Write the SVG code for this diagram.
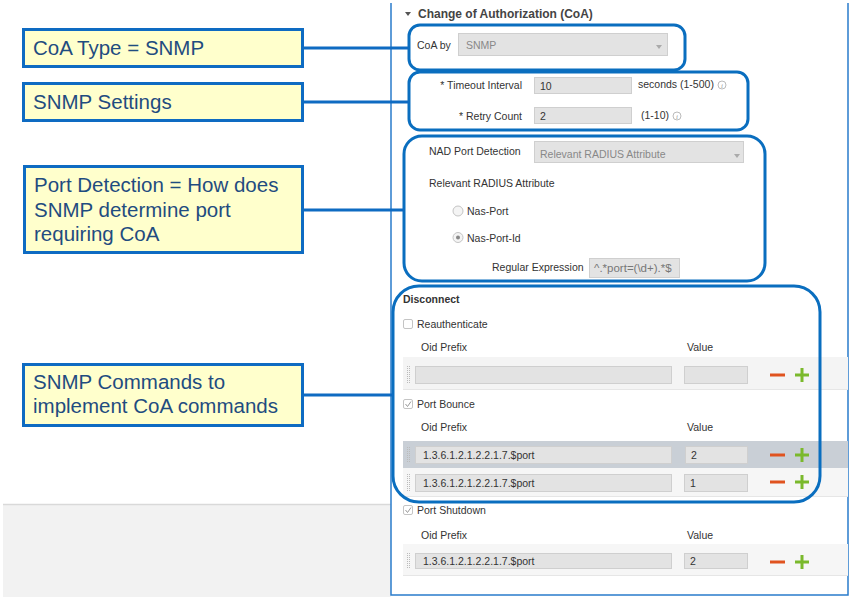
<svg xmlns="http://www.w3.org/2000/svg" width="860" height="606" viewBox="0 0 860 606">
<style>
.callout rect{fill:#ffffcc;stroke:#0e6bc2;stroke-width:3}
.callout text{font-family:"Liberation Sans",Arial,sans-serif;font-size:20.5px;fill:#1f4c80}
.hl{fill:none;stroke:#0a6ebf;stroke-width:3}
.conn line{stroke:#0e6bc2;stroke-width:3}
.f{font-family:"Liberation Sans",Arial,sans-serif;font-size:10.5px;fill:#333}
.g{font-family:"Liberation Sans",Arial,sans-serif;font-size:10.5px;fill:#888}
.inp{fill:#e3e3e3;stroke:#cfcfcf;stroke-width:1}
.cb{fill:#fff;stroke:#c4c4c4;stroke-width:1}
.ck{fill:none;stroke:#999;stroke-width:1}
.minus{stroke:#e0531f;stroke-width:3}
.plus{stroke:#7ab92c;stroke-width:3}
.drag{stroke:#bbb;stroke-width:1;stroke-dasharray:1 1}
.sep{stroke:#e6e6e6;stroke-width:1}
</style>
<defs>
<clipPath id="reClip"><rect x="589" y="258" width="90" height="19"/></clipPath>
</defs>
<rect width="860" height="606" fill="#fff"/>
<!-- bottom-left gray area -->
<rect x="3" y="504" width="388" height="93" fill="#f2f2f2"/>
<line x1="3" y1="504.5" x2="391" y2="504.5" stroke="#d9d9d9" stroke-width="1.5"/>
<!-- panel border -->
<path d="M391 3 V595 H848 V3" fill="none" stroke="#2a7ccc" stroke-width="1.5"/>

<!-- header -->
<g id="header">
<path d="M405 12 L411 12 L408 16 Z" fill="#555"/>
<text x="418" y="18" font-family="Liberation Sans,Arial,sans-serif" font-size="12" font-weight="bold" fill="#444">Change of Authorization (CoA)</text>
</g>

<!-- CoA by -->
<g id="form-coa">
<text class="f" x="417" y="49">CoA by</text>
<rect class="inp" x="458.5" y="33.5" width="209" height="22" fill="#e6e6e6"/>
<text class="g" x="466" y="49">SNMP</text>
<path d="M656 45 L662 45 L659 49 Z" fill="#aaa"/>
</g>

<!-- SNMP settings -->
<g id="form-snmp">
<text class="f" x="522" y="89" text-anchor="end">* Timeout Interval</text>
<rect class="inp" x="534.5" y="77.5" width="97" height="16"/>
<text class="f" x="540" y="90" fill="#555">10</text>
<text class="f" x="638" y="88">seconds (1-500)</text>
<circle cx="722" cy="85" r="4" fill="none" stroke="#bbb"/>
<text x="722" y="87.5" font-family="Liberation Serif,serif" font-style="italic" font-size="7" fill="#999" text-anchor="middle">i</text>
<text class="f" x="522" y="120" text-anchor="end">* Retry Count</text>
<rect class="inp" x="534.5" y="107.5" width="97" height="16"/>
<text class="f" x="540" y="120" fill="#555">2</text>
<text class="f" x="641" y="119">(1-10)</text>
<circle cx="677" cy="116" r="4" fill="none" stroke="#bbb"/>
<text x="677" y="118.5" font-family="Liberation Serif,serif" font-style="italic" font-size="7" fill="#999" text-anchor="middle">i</text>
</g>

<!-- Port detection -->
<g id="form-port">
<text class="f" x="429" y="155">NAD Port Detection</text>
<rect class="inp" x="534.5" y="141.5" width="209" height="21" fill="#e6e6e6"/>
<text class="g" x="540" y="158">Relevant RADIUS Attribute</text>
<path d="M734 154 L740 154 L737 158 Z" fill="#aaa"/>
<text class="f" x="429" y="187">Relevant RADIUS Attribute</text>
<circle cx="458" cy="211" r="5" fill="#f4f4f4" stroke="#c4c4c4"/>
<text class="f" x="467" y="215">Nas-Port</text>
<circle cx="458" cy="237.5" r="5" fill="#f4f4f4" stroke="#c4c4c4"/>
<circle cx="458" cy="237.5" r="2" fill="#888"/>
<text class="f" x="467" y="242">Nas-Port-Id</text>
<text class="f" x="492" y="271">Regular Expression</text>
<rect class="inp" x="589.5" y="258.5" width="90" height="19"/>
<text x="594" y="272" clip-path="url(#reClip)" font-family="Liberation Sans,Arial,sans-serif" font-size="11.5" fill="#777">^.*port=(\d+).*$</text>
</g>

<!-- Disconnect -->
<g id="form-disconnect">
<text x="403" y="303" font-family="Liberation Sans,Arial,sans-serif" font-size="10.5" font-weight="bold" fill="#333">Disconnect</text>
<rect class="cb" x="403.5" y="319.5" width="9" height="9" rx="1.5"/>
<text class="f" x="417" y="328">Reauthenticate</text>
<text class="f" x="421" y="351">Oid Prefix</text>
<text class="f" x="687" y="351">Value</text>
<rect x="403" y="357" width="445" height="32" fill="#f4f4f4"/>
<line class="sep" x1="403" y1="389.5" x2="848" y2="389.5"/>
<line class="drag" x1="407.5" y1="366" x2="407.5" y2="383"/>
<line class="drag" x1="409.5" y1="366" x2="409.5" y2="383"/>
<rect class="inp" x="415.5" y="366.5" width="256" height="17"/>
<rect class="inp" x="684.5" y="366.5" width="63" height="17"/>
<line class="minus" x1="770" y1="375" x2="785" y2="375"/>
<line class="plus" x1="795" y1="375" x2="809" y2="375"/>
<line class="plus" x1="802" y1="368" x2="802" y2="382"/>

<rect class="cb" x="403.5" y="399.5" width="9" height="9" rx="1.5"/>
<path class="ck" d="M405.5 404 L407.5 406.5 L411 401.5"/>
<text class="f" x="417" y="408">Port Bounce</text>
<text class="f" x="421" y="431">Oid Prefix</text>
<text class="f" x="687" y="431">Value</text>

<rect x="403" y="441" width="445" height="27" fill="#c9cfd6"/>
<line class="drag" x1="407.5" y1="447" x2="407.5" y2="463"/>
<line class="drag" x1="409.5" y1="447" x2="409.5" y2="463"/>
<rect class="inp" x="415.5" y="446.5" width="256" height="17"/>
<text class="f" x="423" y="459" fill="#555">1.3.6.1.2.1.2.2.1.7.$port</text>
<rect class="inp" x="685.5" y="446.5" width="62" height="17"/>
<text class="f" x="691" y="459" fill="#555">2</text>
<line class="minus" x1="770" y1="455" x2="785" y2="455"/>
<line class="plus" x1="795" y1="455" x2="809" y2="455"/>
<line class="plus" x1="802" y1="448" x2="802" y2="462"/>

<rect x="403" y="468" width="445" height="28" fill="#f6f6f6"/>
<line class="sep" x1="403" y1="496.5" x2="848" y2="496.5"/>
<line class="drag" x1="407.5" y1="474" x2="407.5" y2="491"/>
<line class="drag" x1="409.5" y1="474" x2="409.5" y2="491"/>
<rect class="inp" x="415.5" y="474.5" width="256" height="17"/>
<text class="f" x="423" y="487" fill="#555">1.3.6.1.2.1.2.2.1.7.$port</text>
<rect class="inp" x="684.5" y="474.5" width="63" height="17"/>
<text class="f" x="690" y="487" fill="#555">1</text>
<line class="minus" x1="770" y1="482" x2="785" y2="482"/>
<line class="plus" x1="795" y1="482" x2="809" y2="482"/>
<line class="plus" x1="802" y1="475" x2="802" y2="489"/>

<rect class="cb" x="403.5" y="505.5" width="9" height="9" rx="1.5"/>
<path class="ck" d="M405.5 510 L407.5 512.5 L411 507.5"/>
<text class="f" x="417" y="514">Port Shutdown</text>
<text class="f" x="421" y="539">Oid Prefix</text>
<text class="f" x="687" y="539">Value</text>

<rect x="403" y="544" width="445" height="31" fill="#f6f6f6"/>
<line class="sep" x1="403" y1="575.5" x2="848" y2="575.5"/>
<line class="drag" x1="407.5" y1="553" x2="407.5" y2="569"/>
<line class="drag" x1="409.5" y1="553" x2="409.5" y2="569"/>
<rect class="inp" x="415.5" y="553.5" width="256" height="15"/>
<text class="f" x="423" y="565" fill="#555">1.3.6.1.2.1.2.2.1.7.$port</text>
<rect class="inp" x="684.5" y="553.5" width="63" height="15"/>
<text class="f" x="690" y="565" fill="#555">2</text>
<line class="minus" x1="770" y1="562" x2="785" y2="562"/>
<line class="plus" x1="795" y1="562" x2="809" y2="562"/>
<line class="plus" x1="802" y1="555" x2="802" y2="569"/>
</g>

<!-- highlight boxes -->
<g id="hl-coa"><rect class="hl" x="409" y="25" width="276" height="45" rx="11"/></g>
<g id="hl-snmp"><rect class="hl" x="409" y="72" width="339" height="58" rx="11"/></g>
<g id="hl-port"><rect class="hl" x="404" y="136" width="361" height="145" rx="18"/></g>
<g id="hl-disconnect"><rect class="hl" x="393" y="286" width="427" height="216" rx="26"/></g>

<!-- connectors -->
<g id="connectors" class="conn">
<line x1="303" y1="48" x2="409" y2="48"/>
<line x1="303" y1="102" x2="409" y2="102"/>
<line x1="303" y1="210" x2="404" y2="210"/>
<line x1="303" y1="395" x2="393" y2="395"/>
</g>

<!-- callouts -->
<g id="callout-coa-type" class="callout">
<rect x="23.5" y="29.5" width="279" height="37"/>
<text x="33" y="55">CoA Type = SNMP</text>
</g>
<g id="callout-snmp-settings" class="callout">
<rect x="23.5" y="83.5" width="279" height="37"/>
<text x="33" y="109">SNMP Settings</text>
</g>
<g id="callout-port-detection" class="callout">
<rect x="24.5" y="166.5" width="278" height="86"/>
<text x="34" y="192">Port Detection = How does</text>
<text x="34" y="217">SNMP determine port</text>
<text x="34" y="241">requiring CoA</text>
</g>
<g id="callout-snmp-commands" class="callout">
<rect x="23.5" y="364.5" width="279" height="61"/>
<text x="33" y="389">SNMP Commands to</text>
<text x="33" y="413">implement CoA commands</text>
</g>
</svg>
